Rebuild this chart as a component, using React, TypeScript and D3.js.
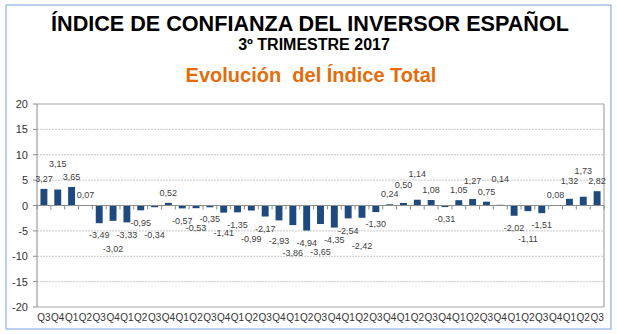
import React from "react";
import * as d3 from "d3";

const quarterLabels = [
  "Q3","Q4","Q1","Q2","Q3","Q4","Q1","Q2","Q3","Q4",
  "Q1","Q2","Q3","Q4","Q1","Q2","Q3","Q4","Q1","Q2",
  "Q3","Q4","Q1","Q2","Q3","Q4","Q1","Q2","Q3","Q4",
  "Q1","Q2","Q3","Q4","Q1","Q2","Q3","Q4","Q1","Q2","Q3",
];

const indexValues = [
  3.27, 3.15, 3.65, 0.07, -3.49, -3.02, -3.33, -0.95, -0.34, 0.52,
  -0.57, -0.53, -0.35, -1.41, -1.35, -0.99, -2.17, -2.93, -3.86, -4.94,
  -3.65, -4.35, -2.54, -2.42, -1.3, 0.24, 0.5, 1.14, 1.08, -0.31,
  1.05, 1.27, 0.75, 0.14, -2.02, -1.11, -1.51, 0.08, 1.32, 1.73, 2.82,
];

const yTicks = [-20, -15, -10, -5, 0, 5, 10, 15, 20];

const titleText = "ÍNDICE DE CONFIANZA DEL INVERSOR ESPAÑOL";
const subtitleText = "3º TRIMESTRE 2017";
const chartTitleText = "Evolución  del Índice Total";

const W = 617;
const H = 334;
const FONT = "'Liberation Sans', Arial, sans-serif";
const LABEL_FS = 9;

const locale = d3.formatLocale({
  decimal: ",",
  thousands: ".",
  grouping: [3],
  currency: ["", "€"],
  minus: "-",
});
const fmt = locale.format(".2f");

function textWidth(s: string, fs: number) {
  let w = 0;
  for (const ch of s) {
    if (ch === ",") w += 0.278;
    else if (ch === "-") w += 0.333;
    else w += 0.556;
  }
  return w * fs;
}

export default function App() {
  const plotLeft = 37;
  const plotRight = 604;
  const plotTop = 104;
  const plotBottom = 307;

  const idx = indexValues.map((_, i) => i);
  const x = d3
    .scaleBand<number>()
    .domain(idx)
    .range([plotLeft, plotRight])
    .paddingInner(0.5)
    .paddingOuter(0.25);
  const y = d3.scaleLinear().domain([-20, 20]).range([plotBottom, plotTop]);
  const y0 = y(0);
  const step = x.step();
  const boundaries = d3.range(indexValues.length + 1).map((i) => plotLeft + i * step);

  // greedy stagger of data labels to limit overlaps
  const placed: { cx: number; cy: number; w: number; text: string }[] = [];
  indexValues.forEach((v, i) => {
    const text = fmt(v);
    const w = textWidth(text, LABEL_FS);
    const cx = (x(i) as number) + x.bandwidth() / 2;
    const sign = v >= 0 ? -1 : 1;
    const base = v >= 0 ? 10 : 12;
    const candidates = [base, base + 8, base + 16];
    let chosen = base;
    for (const c of candidates) {
      const cy = y(v) + sign * c;
      const clash = placed.some(
        (p) => Math.abs(p.cx - cx) < (p.w + w) / 2 - 1 && Math.abs(p.cy - cy) < 7.5
      );
      if (!clash) {
        chosen = c;
        break;
      }
      chosen = c;
    }
    placed.push({ cx, cy: y(v) + sign * chosen, w, text });
  });

  return (
    <svg
      width={W}
      height={H}
      viewBox={`0 0 ${W} ${H}`}
      style={{ position: "absolute", left: 0, top: 0, background: "#fff" }}
      fontFamily={FONT}
    >
      <rect x={0} y={0} width={W} height={H} fill="#ffffff" />
      <rect x={6} y={5} width={605} height={324} fill="none" stroke="#8DB3E2" strokeWidth={1.2} />

      <text x={310} y={31} textAnchor="middle" fontSize={21.6} fontWeight="bold" fill="#000">
        {titleText}
      </text>
      <text x={314} y={50} textAnchor="middle" fontSize={16} fontWeight="bold" fill="#000">
        {subtitleText}
      </text>
      <text x={311} y={82} textAnchor="middle" fontSize={20} fontWeight="bold" fill="#E46C0A" style={{ whiteSpace: "pre" }}>
        {chartTitleText}
      </text>

      {/* gridlines */}
      {yTicks
        .filter((t) => t !== 0 && t !== 20 && t !== -20)
        .map((t) => (
          <line
            key={"g" + t}
            x1={plotLeft}
            x2={plotRight}
            y1={y(t)}
            y2={y(t)}
            stroke="#C8C8C8"
            strokeWidth={1}
            strokeDasharray="2,1"
          />
        ))}

      {/* plot border */}
      <line x1={plotLeft} x2={plotRight} y1={plotTop} y2={plotTop} stroke="#A6A6A6" strokeWidth={1.2} />
      <line x1={plotLeft} x2={plotRight} y1={plotBottom} y2={plotBottom} stroke="#A6A6A6" strokeWidth={1.2} />
      <line x1={plotRight} x2={plotRight} y1={plotTop} y2={plotBottom} stroke="#A6A6A6" strokeWidth={1.2} />
      <line x1={plotLeft} x2={plotLeft} y1={plotTop} y2={plotBottom} stroke="#8C8C8C" strokeWidth={1} />

      {/* y ticks & labels */}
      {yTicks.map((t) => (
        <g key={"yt" + t}>
          <line x1={plotLeft - 4} x2={plotLeft} y1={y(t)} y2={y(t)} stroke="#8C8C8C" />
          <text x={28} y={y(t) + 4} textAnchor="end" fontSize={11} fill="#333">
            {t}
          </text>
        </g>
      ))}

      {/* bars */}
      {indexValues.map((v, i) => (
        <rect
          key={"b" + i}
          x={x(i)}
          y={Math.min(y(v), y0)}
          width={x.bandwidth()}
          height={Math.abs(y(v) - y0)}
          fill="#1F4A7E"
        />
      ))}

      {/* zero axis */}
      <line x1={plotLeft} x2={plotRight} y1={y0} y2={y0} stroke="#8C8C8C" strokeWidth={1} />
      {boundaries.map((bx, i) => (
        <line key={"xt" + i} x1={bx} x2={bx} y1={y0} y2={y0 + 4} stroke="#8C8C8C" />
      ))}

      {/* data labels */}
      {placed.map((p, i) => (
        <text key={"l" + i} x={p.cx} y={p.cy + 3.2} textAnchor="middle" fontSize={LABEL_FS} fill="#404040">
          {p.text}
        </text>
      ))}

      {/* x labels */}
      {quarterLabels.map((q, i) => (
        <text
          key={"x" + i}
          x={(x(i) as number) + x.bandwidth() / 2}
          y={321}
          textAnchor="middle"
          fontSize={10}
          fill="#333"
        >
          {q}
        </text>
      ))}
    </svg>
  );
}
